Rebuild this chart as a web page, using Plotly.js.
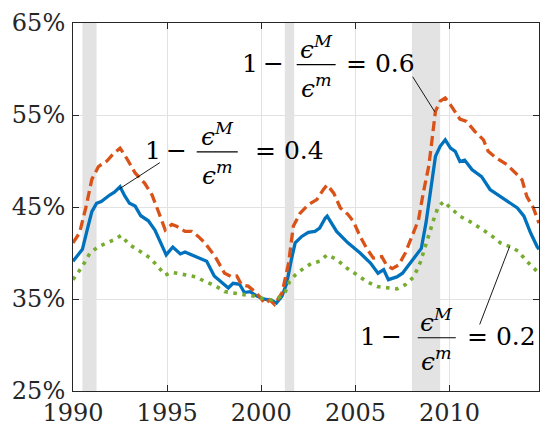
<!DOCTYPE html>
<html>
<head>
<meta charset="utf-8">
<script src="https://cdn.plot.ly/plotly-3.0.1.min.js"></script>
<style>html,body{margin:0;padding:0;background:#fff;}#chart{width:540px;height:427px;}</style>
</head>
<body>
<div id="chart"></div>
<script>
// Series: 1 - eps^M/eps^m = 0.4 (blue, solid)
const yearsA = [1990.0,1990.5,1990.8,1991.0,1991.25,1991.5,1991.95,1992.2,1992.5,1992.75,1993.0,1993.3,1993.6,1994.0,1994.35,1994.6,1994.95,1995.3,1995.7,1995.95,1996.4,1996.75,1997.1,1997.5,1997.8,1998.25,1998.5,1998.85,1999.1,1999.4,1999.75,2000.1,2000.55,2000.8,2001.1,2001.35,2001.6,2001.8,2002.15,2002.5,2002.85,2003.1,2003.4,2003.5,2004.0,2004.6,2005.25,2005.8,2006.2,2006.5,2006.75,2007.2,2007.5,2008.1,2008.5,2008.75,2009.05,2009.25,2009.5,2009.77,2010.05,2010.3,2010.55,2010.8,2011.2,2011.7,2012.15,2012.6,2013.05,2013.6,2013.95,2014.3,2014.65,2014.75];
const share04 = [39.1,40.4,42.9,44.5,45.4,45.6,46.3,46.6,47.2,46.2,45.4,45.1,44.05,43.5,42.5,41.45,39.8,40.65,39.9,40.1,39.7,39.35,39.1,37.5,37.0,36.2,36.7,36.6,35.7,35.8,35.35,35.0,34.85,34.55,35.3,36.7,39.3,41.1,41.8,42.25,42.35,42.7,43.8,44.0,42.35,41.1,40.0,38.9,37.8,38.2,37.1,37.4,37.8,39.4,40.5,43.3,47.6,50.5,51.6,52.3,51.4,51.05,49.95,50.1,49.05,48.3,46.9,46.3,45.7,44.9,44.0,42.2,40.7,40.4];

// Series: 0.6 (orange, dashed)
const yearsB = [1990.0,1990.35,1990.7,1991.0,1991.35,1991.8,1992.1,1992.5,1992.85,1993.3,1993.8,1994.2,1994.5,1994.9,1995.25,1995.5,1995.95,1996.3,1996.65,1997.0,1997.55,1998.05,1998.4,1998.7,1998.95,1999.3,1999.75,2000.2,2000.45,2000.7,2001.1,2001.45,2001.7,2002.05,2002.5,2002.95,2003.3,2003.5,2003.85,2004.2,2004.6,2004.9,2005.25,2005.6,2005.95,2006.4,2006.65,2006.95,2007.3,2007.65,2008.0,2008.35,2008.6,2008.9,2009.05,2009.25,2009.5,2009.77,2010.05,2010.3,2010.55,2010.9,2011.35,2011.8,2012.05,2012.5,2013.05,2013.5,2013.85,2014.1,2014.45,2014.75];
const share06 = [41.1,42.2,45.1,48.0,49.4,50.0,50.7,51.4,50.3,48.7,47.6,46.3,44.7,42.5,43.1,42.9,42.35,42.35,41.8,41.1,39.6,37.8,37.45,37.5,36.55,36.4,35.65,34.5,34.9,34.4,35.65,38.9,42.9,44.3,45.25,45.8,46.9,47.4,46.5,44.9,44.2,43.4,41.8,40.5,39.45,39.6,38.7,38.3,38.7,40.0,41.8,43.6,46.5,49.5,52.0,55.4,56.5,56.85,56.1,55.4,54.55,54.3,53.2,52.3,51.05,50.3,49.6,48.7,47.95,46.15,44.9,43.25];

// Series: 0.2 (green, dotted)
const yearsC = [1990.0,1990.5,1990.9,1991.35,1991.8,1992.2,1992.55,1993.0,1993.55,1994.1,1994.5,1994.9,1995.25,1995.7,1996.1,1996.55,1997.0,1997.55,1998.05,1998.6,1999.1,1999.65,2000.2,2000.55,2000.9,2001.25,2001.5,2001.8,2002.25,2002.7,2003.1,2003.5,2004.0,2004.55,2005.1,2005.6,2006.15,2006.65,2007.2,2007.65,2008.1,2008.45,2008.7,2008.9,2009.15,2009.4,2009.7,2010.05,2010.55,2011.1,2011.6,2012.15,2012.7,2013.2,2013.65,2014.1,2014.65,2014.75];
const share02 = [37.1,38.55,40.0,40.7,41.1,41.45,41.9,40.9,40.2,39.45,38.55,37.6,37.9,37.75,37.6,37.4,36.9,36.45,35.8,35.65,35.45,35.3,35.0,34.9,35.1,35.65,36.9,37.6,38.35,38.9,39.1,39.8,39.3,38.35,37.6,36.9,36.35,36.2,36.1,36.55,37.4,39.0,40.7,41.8,43.6,45.05,45.6,44.9,44.0,43.4,42.7,42.0,41.1,40.7,40.2,39.1,38.0,37.9];

// Recessions (start, end)
const recStart = [1990.5, 2001.25, 2008.0];
const recEnd   = [1991.25, 2001.75, 2009.5];

const xTicks = [1990, 1995, 2000, 2005, 2010];
const xTickText = ['1990', '1995', '2000', '2005', '2010'];
const yTicks = [25, 35, 45, 55, 65];
const yTickText = ['25%', '35%', '45%', '55%', '65%'];

const SERIF = 'DejaVu Serif';
const INK = '#262626';

const traces = [
  {x: yearsA, y: share04, type: 'scatter', mode: 'lines', name: '0.4',
   line: {color: '#0072BD', width: 3.3}},
  {x: yearsB, y: share06, type: 'scatter', mode: 'lines', name: '0.6',
   line: {color: '#D95319', width: 3.3, dash: '10px,5px'}},
  {x: yearsC, y: share02, type: 'scatter', mode: 'lines', name: '0.2',
   line: {color: '#77AC30', width: 3.6, dash: '3.6px,5.5px'}}
];

const shapes = [];
for (let i = 0; i < recStart.length; i++) {
  shapes.push({type: 'rect', xref: 'x', yref: 'paper', x0: recStart[i], x1: recEnd[i], y0: 0, y1: 1,
    fillcolor: '#e3e3e3', line: {width: 0}, layer: 'below'});
}

const labels = [
  {barY: 51.0, bx0: 1996.57, bx1: 1998.75, minusX: 1996.14, eqX: 1999.55, val: '0.4', p: [1994.61, 49.82, 1992.48, 46.99]},
  {barY: 60.47, bx0: 2001.88, bx1: 2003.95, minusX: 2001.30, eqX: 2004.40, val: '0.6', p: [2008.04, 59.16, 2009.21, 55.36]},
  {barY: 30.79, bx0: 2008.31, bx1: 2010.33, minusX: 2007.56, eqX: 2010.80, val: '0.2', p: [2011.60, 32.23, 2013.19, 40.71]}
];

const annotations = [];
const mf = {family: SERIF, size: 25, color: '#000'};
labels.forEach(L => {
  const cx = (L.bx0 + L.bx1) / 2;
  shapes.push({type: 'line', xref: 'x', yref: 'y', x0: L.bx0, x1: L.bx1, y0: L.barY, y1: L.barY,
    line: {color: '#000', width: 1.2}, layer: 'above'});
  shapes.push({type: 'line', xref: 'x', yref: 'y', x0: L.p[0], y0: L.p[1], x1: L.p[2], y1: L.p[3],
    line: {color: '#000', width: 0.9}, layer: 'above'});
  annotations.push({xref: 'x', yref: 'y', x: L.minusX, y: L.barY, xanchor: 'right', yanchor: 'middle',
    text: '1\u2009\u2212', showarrow: false, font: mf, yshift: 1});
  annotations.push({xref: 'x', yref: 'y', x: L.eqX, y: L.barY, xanchor: 'left', yanchor: 'middle',
    text: '= ' + L.val, showarrow: false, font: mf, yshift: 1});
  annotations.push({xref: 'x', yref: 'y', x: cx, y: L.barY, xanchor: 'center', yanchor: 'middle',
    text: '<i>\u03F5<sup>M</sup></i>', showarrow: false, font: mf, yshift: 17});
  annotations.push({xref: 'x', yref: 'y', x: cx, y: L.barY, xanchor: 'center', yanchor: 'middle',
    text: '<i>\u03F5<sup>m</sup></i>', showarrow: false, font: mf, yshift: -22});
});

const axisCommon = {
  showgrid: true, gridcolor: '#e2e2e2', gridwidth: 1,
  showline: true, linecolor: INK, linewidth: 1, mirror: 'ticks',
  ticks: 'inside', ticklen: 6, tickcolor: INK, tickwidth: 1,
  zeroline: false, tickfont: {family: SERIF, size: 24, color: INK}
};

const layout = {
  width: 540, height: 427,
  margin: {l: 73, r: 1, t: 23, b: 36, pad: 0},
  paper_bgcolor: '#fff', plot_bgcolor: '#fff',
  font: {family: SERIF},
  showlegend: false,
  xaxis: Object.assign({}, axisCommon, {range: [1990, 2014.75], tickmode: 'array', tickvals: xTicks, ticktext: xTickText, ticklabelstandoff: 0}),
  yaxis: Object.assign({}, axisCommon, {range: [25, 65], tickmode: 'array', tickvals: yTicks, ticktext: yTickText, ticklabelstandoff: 2}),
  shapes: shapes,
  annotations: annotations
};

Plotly.newPlot('chart', traces, layout, {staticPlot: true, displayModeBar: false});
</script>
</body>
</html>
